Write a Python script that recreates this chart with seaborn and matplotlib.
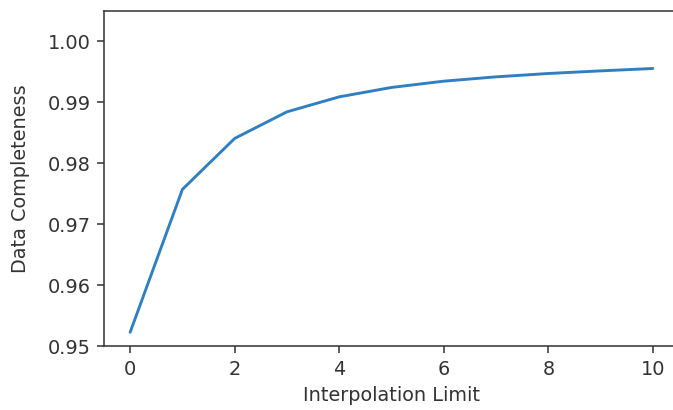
import matplotlib
matplotlib.use("Agg")
import matplotlib.pyplot as plt
import seaborn as sns
import pandas as pd

interp_limit = [0, 1, 2, 3, 4, 5, 6, 7, 8, 9, 10]
completeness = [0.95225, 0.97569, 0.98405, 0.98841, 0.99087, 0.99241, 0.99344,
                0.99415, 0.99470, 0.99513, 0.99552]

sns.set_style("ticks")
plt.rcParams['font.family'] = ['DejaVu Sans']
plt.rcParams['font.size'] = 10

df = pd.DataFrame({"Interpolation Limit": interp_limit, "Data Completeness": completeness})

DPI = 139
fig = plt.figure(figsize=(673 / DPI, 410 / DPI), dpi=DPI)
ax = fig.add_axes([104 / 673, 1 - 346 / 410, 575 / 673, (346 - 10.7) / 410])
sns.lineplot(data=df, x="Interpolation Limit", y="Data Completeness", ax=ax,
             color="#2f7fc1", linewidth=1.5)
ax.set_ylim(0.95, 1.005)
ax.set_xlim(-0.5, 10.5)
ax.set_xticks([0, 2, 4, 6, 8, 10])
ax.set_yticks([0.95, 0.96, 0.97, 0.98, 0.99, 1.00])
ax.set_yticklabels(["0.95", "0.96", "0.97", "0.98", "0.99", "1.00"])
ax.tick_params(labelsize=10, colors="#333333", labelcolor="#333333", length=3.5, width=0.8)
ax.set_xlabel("Interpolation Limit", fontsize=10, color="#333333")
ax.set_ylabel("Data Completeness", fontsize=10, color="#333333", labelpad=9)
for s in ax.spines.values():
    s.set_color("#333333")
    s.set_linewidth(0.8)
ax.spines["right"].set_visible(False)
fig.savefig("out.png", dpi=DPI)
